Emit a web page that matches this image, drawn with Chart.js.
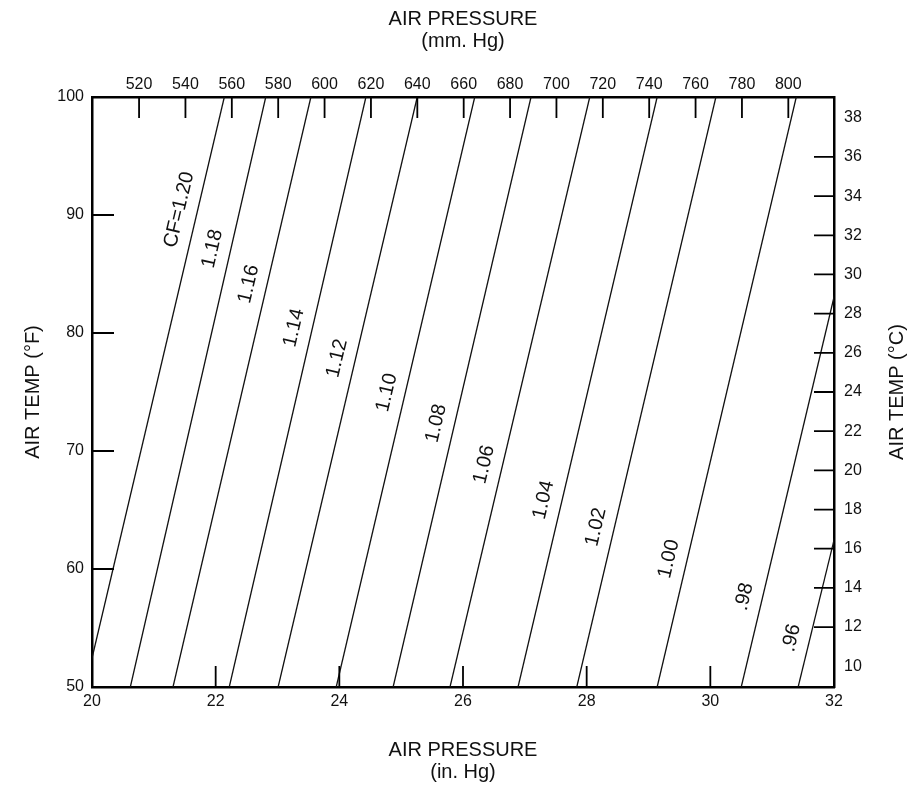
<!DOCTYPE html>
<html>
<head>
<meta charset="utf-8">
<script src="https://cdn.jsdelivr.net/npm/chart.js@4.4.0/dist/chart.umd.min.js"></script>
<style>
html, body { margin: 0; padding: 0; background: #fff; }
#wrap { width: 916px; height: 789px; }
</style>
</head>
<body>
<div id="wrap"><canvas id="cf-chart" width="916" height="789"></canvas></div>
<script>
// correction factor lines (pressure in in. Hg at 50F and at 100F)
var cfValues = [1.20, 1.18, 1.16, 1.14, 1.12, 1.10, 1.08, 1.06, 1.04, 1.02, 1.00, 0.98, 0.96];
var cfLabels = ['CF=1.20', '1.18', '1.16', '1.14', '1.12', '1.10', '1.08', '1.06', '1.04', '1.02', '1.00', '.98', '.96'];
var pressAt50 = [19.89, 20.62, 21.31, 22.22, 23.01, 23.95, 24.87, 25.79, 26.89, 27.84, 29.14, 30.50, 31.42];
var pressAt100 = [22.14, 22.81, 23.54, 24.43, 25.26, 26.19, 27.10, 28.05, 29.14, 30.09, 31.39, 32.77, 33.75];
// temperature (F) where each line carries its label
var labelTemp = [90.1, 86.8, 83.8, 80.1, 77.5, 74.6, 72.0, 68.5, 65.5, 63.2, 60.5, 57.3, 53.8];

var inHgTicks = [20, 22, 24, 26, 28, 30, 32];
var mmHgTicks = [520, 540, 560, 580, 600, 620, 640, 660, 680, 700, 720, 740, 760, 780, 800];
var tempFTicks = [50, 60, 70, 80, 90, 100];
var tempCTicks = [10, 12, 14, 16, 18, 20, 22, 24, 26, 28, 30, 32, 34, 36, 38];

var FONT = '"Liberation Sans", Arial, sans-serif';
var ink = '#111';

function setTicks(list) {
    return function(scale) {
        scale.ticks = list.map(function(v) { return { value: v }; });
    };
}

var datasets = [];
for (let i = 0; i < cfValues.length; i++) {
    datasets.push({
        label: cfLabels[i],
        data: [{ x: pressAt50[i], y: 50 }, { x: pressAt100[i], y: 100 }],
        showLine: true,
        borderColor: ink,
        borderWidth: 1.3,
        pointRadius: 0,
        xAxisID: 'x',
        yAxisID: 'y'
    });
}

var extras = {
    id: 'extras',
    afterDatasetsDraw: function(chart) {
        var ctx = chart.ctx;
        var xs = chart.scales.x, ys = chart.scales.y;
        ctx.save();
        ctx.font = '20px ' + FONT;
        ctx.fillStyle = ink;
        ctx.textAlign = 'center';
        ctx.textBaseline = 'middle';
        for (let i = 0; i < cfValues.length; i++) {
            var x0 = xs.getPixelForValue(pressAt50[i]), y0 = ys.getPixelForValue(50);
            var x1 = xs.getPixelForValue(pressAt100[i]), y1 = ys.getPixelForValue(100);
            var t = (labelTemp[i] - 50) / 50;
            var ang = Math.atan2(y1 - y0, x1 - x0);
            ctx.save();
            ctx.translate(x0 + (x1 - x0) * t, y0 + (y1 - y0) * t);
            ctx.rotate(ang);
            ctx.fillText(cfLabels[i], 0, -18);
            ctx.restore();
        }
        ctx.restore();
    },
    afterDraw: function(chart) {
        var ctx = chart.ctx;
        var a = chart.chartArea;
        var s = chart.scales;
        ctx.save();
        ctx.strokeStyle = '#000';
        ctx.lineWidth = 1.8;
        ctx.beginPath();
        mmHgTicks.forEach(function(v) {
            var x = s.x2.getPixelForValue(v);
            ctx.moveTo(x, a.top); ctx.lineTo(x, a.top + 21);
        });
        inHgTicks.slice(1, -1).forEach(function(v) {
            var x = s.x.getPixelForValue(v);
            ctx.moveTo(x, a.bottom); ctx.lineTo(x, a.bottom - 21);
        });
        tempFTicks.slice(1, -1).forEach(function(v) {
            var y = s.y.getPixelForValue(v);
            ctx.moveTo(a.left, y); ctx.lineTo(a.left + 22, y);
        });
        tempCTicks.slice(1, -1).forEach(function(v) {
            var y = s.y2.getPixelForValue(v);
            ctx.moveTo(a.right, y); ctx.lineTo(a.right - 20, y);
        });
        ctx.stroke();

        // right title reads bottom to top like the left one
        ctx.fillStyle = ink;
        ctx.font = '20px ' + FONT;
        ctx.textAlign = 'center';
        ctx.textBaseline = 'middle';
        ctx.translate(897, (a.top + a.bottom) / 2);
        ctx.rotate(-Math.PI / 2);
        ctx.fillText('AIR TEMP (\u00B0C)', 0, 0);
        ctx.restore();
    }
};

var tickFont = { family: FONT, size: 16 };
var titleFont = { family: FONT, size: 20, lineHeight: 1.1 };
var border = { display: true, width: 2.5, color: '#000' };
var noGrid = { display: false, drawTicks: false };

new Chart(document.getElementById('cf-chart'), {
    type: 'scatter',
    data: { datasets: datasets },
    options: {
        responsive: false,
        animation: false,
        devicePixelRatio: 1,
        layout: { padding: 0 },
        plugins: { legend: { display: false }, tooltip: { enabled: false } },
        scales: {
            x: {
                type: 'linear', position: 'bottom', min: 20, max: 32,
                afterBuildTicks: setTicks(inHgTicks),
                ticks: { font: tickFont, color: ink, padding: 5, maxRotation: 0, autoSkip: false },
                grid: noGrid, border: border,
                title: { display: true, text: ['AIR PRESSURE', '(in. Hg)'], font: titleFont, color: ink, padding: { top: 0, bottom: 6 } },
                afterFit: function(sc) { sc.height = 102; }
            },
            x2: {
                axis: 'x', type: 'linear', position: 'top', min: 499.7, max: 819.7,
                afterBuildTicks: setTicks(mmHgTicks),
                ticks: { font: tickFont, color: ink, padding: 3, maxRotation: 0, autoSkip: false },
                grid: noGrid, border: border,
                title: { display: true, text: ['AIR PRESSURE', '(mm. Hg)'], font: titleFont, color: ink, padding: { top: 8, bottom: 0 } },
                afterFit: function(sc) { sc.height = 97; }
            },
            y: {
                type: 'linear', position: 'left', min: 50, max: 100,
                afterBuildTicks: setTicks(tempFTicks),
                ticks: { font: tickFont, color: ink, padding: 8, autoSkip: false },
                grid: noGrid, border: border,
                title: { display: true, text: 'AIR TEMP (\u00B0F)', font: titleFont, color: ink, padding: { top: 22, bottom: 0 } },
                afterFit: function(sc) { sc.width = 92; }
            },
            y2: {
                axis: 'y', type: 'linear', position: 'right', min: 8.94, max: 39.06,
                afterBuildTicks: setTicks(tempCTicks),
                ticks: { font: tickFont, color: ink, padding: 10, autoSkip: false },
                grid: noGrid, border: border,
                afterFit: function(sc) { sc.width = 82; }
            }
        }
    },
    plugins: [extras]
});
</script>
</body>
</html>
